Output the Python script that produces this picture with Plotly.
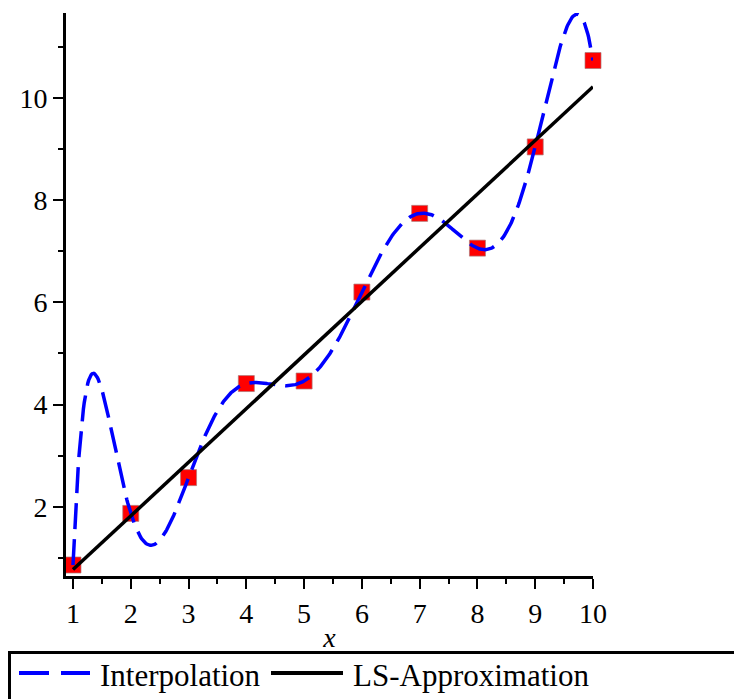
import numpy as np
import plotly.graph_objects as go

# measured data
x_data = [1, 2, 3, 4, 5, 6, 7, 8, 9, 10]
y_data = [0.86, 1.87, 2.57, 4.41, 4.46, 6.20, 7.74, 7.06, 9.04, 10.73]

x_ticks = [1, 2, 3, 4, 5, 6, 7, 8, 9, 10]
y_ticks = [2, 4, 6, 8, 10]

legend_labels = ["Interpolation", "LS-Approximation"]

# interpolating polynomial (degree n-1) through all points
poly = np.polynomial.Polynomial.fit(x_data, y_data, len(x_data) - 1)
xs = np.linspace(min(x_data), max(x_data), 600)
ys = poly(xs)

# least squares straight line
slope, intercept = np.polyfit(x_data, y_data, 1)
x_ls = [min(x_data), max(x_data)]
y_ls = [intercept + slope * v for v in x_ls]

FONT = "Liberation Serif"

fig = go.Figure()
fig.add_trace(go.Scatter(
    x=x_data, y=y_data, mode="markers", showlegend=False, cliponaxis=False,
    marker=dict(symbol="square", size=16, color="#ff0000",
                line=dict(color="rgba(170,120,120,0.7)", width=1)),
))
fig.add_trace(go.Scatter(
    x=xs, y=ys, mode="lines", name=legend_labels[0], showlegend=False,
    cliponaxis=False,
    line=dict(color="#0000ff", width=3.5, dash="26px,10px"),
))
fig.add_trace(go.Scatter(
    x=x_ls, y=y_ls, mode="lines", name=legend_labels[1], showlegend=False,
    cliponaxis=False,
    line=dict(color="#000000", width=3.5),
))

# plot-area geometry in pixels (used for the legend box placement)
L, T, R, B = 66, 13, 593, 576
W_PX, H_PX = 734, 699


def px_x(p):
    return (p - L) / (R - L)


def px_y(p):
    return (B - p) / (B - T)


shapes = [
    # legend frame running off the page edge
    dict(type="rect", xref="paper", yref="paper",
         x0=px_x(9.5), x1=px_x(760), y0=px_y(652.5), y1=px_y(720),
         line=dict(color="black", width=3), fillcolor="rgba(0,0,0,0)"),
    dict(type="line", xref="paper", yref="paper",
         x0=px_x(19), x1=px_x(90), y0=px_y(673), y1=px_y(673),
         line=dict(color="#0000ff", width=4, dash="30px,12px")),
    dict(type="line", xref="paper", yref="paper",
         x0=px_x(271), x1=px_x(343), y0=px_y(673), y1=px_y(673),
         line=dict(color="black", width=4)),
]

annotations = [
    dict(text=legend_labels[0], xref="paper", yref="paper",
         x=px_x(98), y=px_y(675), xanchor="left", yanchor="middle",
         showarrow=False, font=dict(family=FONT, size=31, color="black")),
    dict(text=legend_labels[1], xref="paper", yref="paper",
         x=px_x(351), y=px_y(675), xanchor="left", yanchor="middle",
         showarrow=False, font=dict(family=FONT, size=31, color="black")),
]

fig.update_layout(
    width=W_PX, height=H_PX,
    margin=dict(l=L, r=W_PX - R, t=T, b=H_PX - B, pad=0),
    paper_bgcolor="white", plot_bgcolor="white",
    font=dict(family=FONT, color="black"),
    shapes=shapes, annotations=annotations,
    xaxis=dict(
        range=[0.879, 10.0], showgrid=False, zeroline=False,
        showline=True, linecolor="black", linewidth=3,
        tickmode="array", tickvals=x_ticks, ticktext=[str(v) for v in x_ticks],
        ticks="outside", ticklen=10, tickwidth=2, tickcolor="black",
        minor=dict(tickvals=[v + 0.5 for v in x_ticks[:-1]], ticks="outside",
                   ticklen=5, tickwidth=2, tickcolor="black"),
        tickfont=dict(family=FONT, size=28, color="black"),
        title=dict(text="<i>x</i>", font=dict(family=FONT, size=28, color="black"),
                   standoff=0),
    ),
    yaxis=dict(
        range=[0.645, 11.66], showgrid=False, zeroline=False,
        showline=True, linecolor="black", linewidth=3,
        tickmode="array", tickvals=y_ticks, ticktext=[str(v) for v in y_ticks],
        ticks="outside", ticklen=10, tickwidth=2, tickcolor="black",
        minor=dict(tickvals=[1, 3, 5, 7, 9, 11], ticks="outside",
                   ticklen=5, tickwidth=2, tickcolor="black"),
        tickfont=dict(family=FONT, size=28, color="black"),
    ),
    showlegend=False,
)

fig.write_html("out.html")
